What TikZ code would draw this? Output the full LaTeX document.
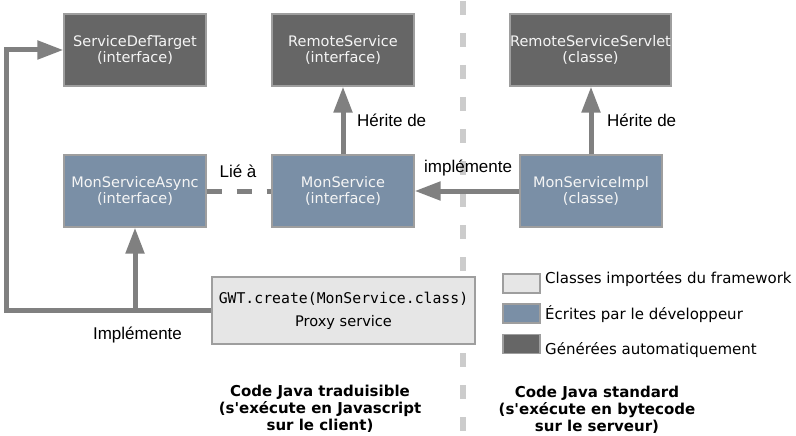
\documentclass[tikz,border=0pt]{standalone}
\usepackage{fontspec}
\setmainfont{DejaVu Sans}
\setmonofont{DejaVu Sans Mono}
\newfontfamily\labelfont{Liberation Sans}
\usetikzlibrary{arrows.meta}
\definecolor{autogen}{HTML}{666666}
\definecolor{devblue}{HTML}{7A8FA6}
\definecolor{fwgray}{HTML}{E6E6E6}
\definecolor{arrowgray}{HTML}{808080}
\definecolor{sepgray}{HTML}{CCCCCC}
\tikzset{
    classbox/.style={draw=black!38, line width=1.2pt, minimum width=142pt, minimum height=72pt,
        inner sep=0pt, align=center, text=white!96!black, font=\fontsize{14.5}{16.5}\selectfont},
    gen/.style={classbox, fill=autogen},
    dev/.style={classbox, fill=devblue},
    fwbox/.style={draw=black!38, line width=1.2pt, fill=fwgray, minimum width=263pt, minimum height=67pt,
        inner sep=0pt, align=center, font=\fontsize{14.6}{23}\selectfont},
    link/.style={draw=arrowgray, line width=5pt, -{Triangle[length=26pt,width=18pt]}},
    linkdash/.style={draw=arrowgray, line width=5pt, dash pattern=on 15pt off 15pt},
    sepline/.style={draw=sepgray, line width=5.5pt, dash pattern=on 14pt off 18pt},
    lbl/.style={inner sep=0pt, font=\labelfont\fontsize{17}{20}\selectfont},
    swatch/.style={draw=black!38, line width=1.2pt, minimum width=37pt, minimum height=19pt, inner sep=0pt},
    legtext/.style={inner sep=0pt, anchor=base west, font=\fontsize{15}{18}\selectfont},
    zone/.style={inner sep=0pt, anchor=north, align=center, font=\bfseries\fontsize{15}{17.2}\selectfont}
}

\begin{document}
\begin{tikzpicture}[x=1pt,y=-1pt]
        \useasboundingbox (0,0) rectangle (796,436);
        % client / server separation
        \draw[sepline] (463,1) -- (463,436);

        \node[gen] (sdt) at (135,50) {ServiceDefTarget\\(interface)};
        \node[gen] (rs) at (343,50) {RemoteService\\(interface)};
        \node[gen, minimum width=161pt] (rss) at (590.5,50) {RemoteServiceServlet\\(classe)};
        \node[dev] (async) at (135,191) {MonServiceAsync\\(interface)};
        \node[dev] (svc) at (343,191) {MonService\\(interface)};
        \node[dev] (impl) at (591,191) {MonServiceImpl\\(classe)};
        \node[fwbox] (proxy) at (343.5,310.5) {\texttt{\fontsize{14.8}{17}\selectfont GWT.create(MonService.class)}\\Proxy service};

        % connectors
        \draw[link] (svc) -- (rs);
        \draw[link] (impl.north) -- (impl.north |- rss.south);
        \draw[link] (impl) -- (svc);
        \draw[linkdash] (async) -- (svc);
        \coordinate (fork) at (async.south |- proxy.west);
        \draw[link] (proxy.west) -- ++(-205,0) |- (sdt.west);
        \draw[link] (fork) -- (async.south);

        \node[lbl, anchor=base west] (herite1) at (357,126) {Hérite de};
        \node[lbl, anchor=base west] (herite2) at (607,127) {Hérite de};
        \node[lbl, anchor=base] (lie) at (238,177) {Lié à};
        \node[lbl, anchor=base west] (implem1) at (424,172) {implémente};
        \node[lbl, anchor=base] (implem2) at (137.5,339) {Implémente};

        % legend
        \node[swatch, fill=fwgray] (legfw) at (521.5,283.5) {};
        \node[swatch, fill=devblue] (legdev) at (521.5,313.5) {};
        \node[swatch, fill=autogen] (leggen) at (521.5,344) {};
        \node[legtext] (txtfw) at (545,283) {Classes importées du framework};
        \node[legtext] (txtdev) at (545,319) {Écrites par le développeur};
        \node[legtext] (txtgen) at (545,354) {Générées automatiquement};

        \node[zone] (client) at (320,385) {Code Java traduisible\\(s\textquotesingle exécute en Javascript\\sur le client)};
        \node[zone] (server) at (597,386) {Code Java standard\\(s\textquotesingle exécute en bytecode\\sur le serveur)};
    \end{tikzpicture}
\end{document}
